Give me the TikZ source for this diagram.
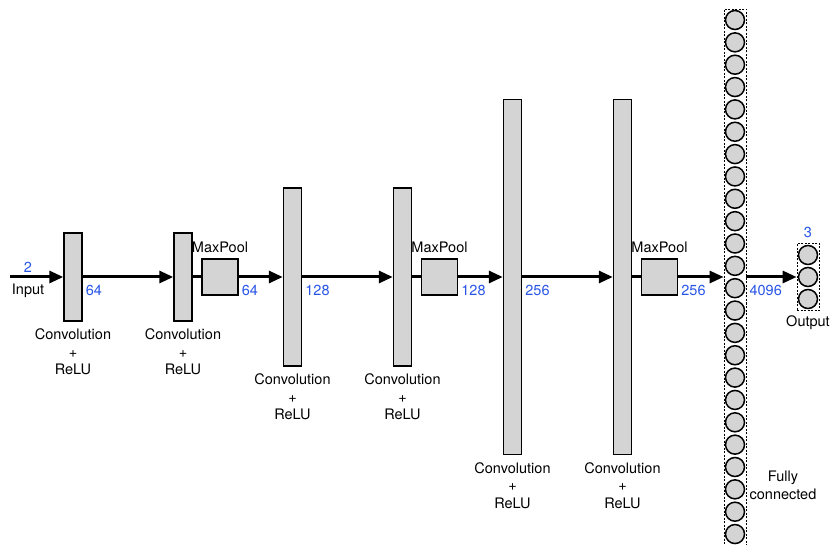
\documentclass[tikz,border=0pt]{standalone}
\usepackage{fontspec}
\setmainfont{TeX Gyre Heros}
\usepackage{xcolor}
\usepackage{tikz}
\usetikzlibrary{positioning}
\usetikzlibrary{arrows.meta}
\definecolor{sizeblue}{RGB}{40,85,230}

\begin{document}
\begin{tikzpicture}
    [
        x = 1pt, y = -1pt,
        every node/.style = {font = \fontsize{14.5}{17.5}\selectfont},
        convbox/.style = {draw = black, line width = 1.4pt, fill = black!17, minimum width = 18pt, inner sep = 0pt},
        poolbox/.style = {draw = black, line width = 1.4pt, fill = black!17, minimum width = 36pt, minimum height = 36pt, inner sep = 0pt},
        neuron/.style = {circle, draw = black, line width = 1.5pt, fill = black!17, minimum size = 19pt, inner sep = 0pt},
        fcgroup/.style = {draw = black, dash pattern = on 2pt off 1.5pt, line width = 0.8pt, minimum width = 22pt, inner sep = 0pt},
        arrowline/.style = {line width = 3pt, -{Triangle[length = 14pt, width = 12pt]}},
        plainline/.style = {line width = 3pt},
        dimlabel/.style = {text = sizeblue, anchor = west, inner sep = 1pt},
        layertext/.style = {align = center, inner sep = 2pt}
    ]
    \useasboundingbox (0,0) rectangle (835,545);

    % Draw the convolution layers:
    \foreach \name/\x/\h in {conv1/73/88, conv2/183/88, conv3/292.5/178, conv4/402.5/178, conv5/512.5/355, conv6/622.5/355}
    {
        \node [convbox, minimum height = \h pt] (\name) at (\x,277) {};
        \node [layertext, below = 5pt of \name] (\name-text) {Convolution\\+\\ReLU};
    }

    % Draw the pooling layers:
    \foreach \name/\x in {pool1/220, pool2/439.5, pool3/659.5}
    {
        \node [poolbox] (\name) at (\x,277) {};
        \node [above = 3.5pt of \name, inner sep = 2pt] (\name-text) {MaxPool};
    }

    % Draw the fully connected layer and the output:
    \node [fcgroup, minimum height = 536pt] (fc) at (735,277) {};
    \foreach \i in {0,...,23}
        \node [neuron] (fc\i) at (735, 20 + 22.35*\i) {};
    \node [fcgroup, minimum height = 67pt] (out) at (808,277) {};
    \foreach \i in {0,1,2}
        \node [neuron] (out\i) at (808, 255 + 22*\i) {};

    % Draw the connections:
    \coordinate (in) at (10,277);
    \draw [arrowline] (in) -- (conv1.west);
    \draw [arrowline] (conv1.east) -- (conv2.west);
    \draw [plainline] (conv2.east) -- (pool1.west);
    \draw [arrowline] (pool1.east) -- (conv3.west);
    \draw [arrowline] (conv3.east) -- (conv4.west);
    \draw [plainline] (conv4.east) -- (pool2.west);
    \draw [arrowline] (pool2.east) -- (conv5.west);
    \draw [arrowline] (conv5.east) -- (conv6.west);
    \draw [plainline] (conv6.east) -- (pool3.west);
    \draw [arrowline] (pool3.east) -- (fc.west);
    \draw [arrowline] (fc.east) -- (out.west);

    % Draw the sizes:
    \foreach \src/\val in {conv1/64, pool1/64, conv3/128, pool2/128, conv5/256, pool3/256, fc/4096}
        \node [dimlabel] (\src-size) at ([xshift = 2pt, yshift = -13pt] \src.east) {\val};
    \node [text = sizeblue] (in-size) at (28,267) {2};
    \node [] (in-text) at (28,291) {Input};
    \node [text = sizeblue] (out-size) at (808,232) {3};
    \node [] (out-text) at (808,323) {Output};
    \node [align = center] (fc-text) at (783,485.5) {Fully\\connected};
\end{tikzpicture}
\end{document}
